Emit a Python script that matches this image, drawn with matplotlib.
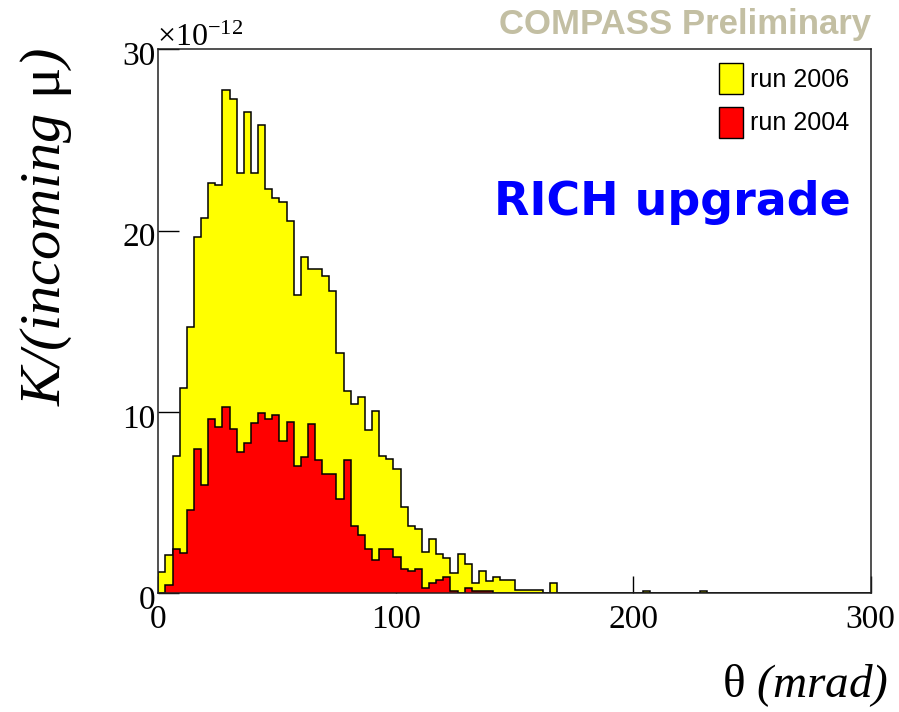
import numpy as np
import matplotlib.pyplot as plt
import matplotlib.transforms as mtransforms
from matplotlib.patches import Patch

plt.rcParams['mathtext.fontset'] = 'custom'
plt.rcParams['mathtext.rm'] = 'Liberation Serif'
plt.rcParams['mathtext.it'] = 'Liberation Serif:italic'

# theta binning: 100 bins of 3 mrad from 0 to 300
theta_edges = np.linspace(0, 300, 101)

# kaons per incoming muon, in units of 1e-12
k_2006 = [1.19, 2.11, 7.57, 11.3, 14.70, 19.63, 20.68, 22.65, 22.5, 27.76,
          27.24, 23.2, 26.54, 23.2, 25.81, 22.3, 21.78, 21.58, 20.53, 16.45,
          18.56, 17.88, 17.88, 17.52, 16.67, 13.27, 11.14, 10.44, 10.81, 9.01,
          10.07, 7.59, 7.41, 6.88, 4.78, 3.73, 3.55, 2.30, 2.98, 2.15,
          1.93, 1.10, 2.15, 1.62, 0.55, 1.23, 0.70, 0.88, 0.73, 0.73,
          0.18, 0.18, 0.18, 0.18, 0.0, 0.55, 0.0, 0.0, 0.0, 0.0,
          0.0, 0.0, 0.0, 0.0, 0.0, 0.0, 0.0, 0.0, 0.14, 0.0,
          0.0, 0.0, 0.0, 0.0, 0.0, 0.0, 0.14, 0.0, 0.0, 0.0,
          0.0, 0.0, 0.0, 0.0, 0.0, 0.0, 0.0, 0.0, 0.0, 0.0,
          0.0, 0.0, 0.0, 0.0, 0.0, 0.0, 0.0, 0.0, 0.0, 0.0]

k_2004 = [0.0, 0.46, 2.43, 2.24, 4.59, 7.97, 5.95, 9.63, 9.17, 10.26,
          9.04, 7.81, 8.27, 9.37, 9.93, 9.63, 9.81, 8.42, 9.46, 7.02,
          7.50, 9.34, 7.35, 6.58, 6.58, 5.22, 7.35, 3.71, 3.22, 2.43,
          1.84, 2.43, 2.43, 2.02, 1.36, 1.25, 1.36, 0.27, 0.59, 0.73,
          0.88, 0.14, 0.0, 0.29, 0.14, 0.14, 0.14, 0.0, 0.0, 0.0,
          0.0, 0.0, 0.0, 0.0, 0.0, 0.0, 0.0, 0.0, 0.0, 0.0,
          0.0, 0.0, 0.0, 0.0, 0.0, 0.0, 0.0, 0.0, 0.0, 0.0,
          0.0, 0.0, 0.0, 0.0, 0.0, 0.0, 0.0, 0.0, 0.0, 0.0,
          0.0, 0.0, 0.0, 0.0, 0.0, 0.0, 0.0, 0.0, 0.0, 0.0,
          0.0, 0.0, 0.0, 0.0, 0.0, 0.0, 0.0, 0.0, 0.0, 0.0]

x_ticks = [0, 100, 200, 300]
y_ticks = [0, 10, 20, 30]

W, H = 899, 712
fig = plt.figure(figsize=(W / 100, H / 100), dpi=100)
ax = fig.add_axes([158.3 / W, 1 - 593.3 / H, (870.7 - 158.3) / W, (593.3 - 49.3) / H])
ax.set_axisbelow(True)

ax.stairs(k_2006, theta_edges, fill=True, color='#ffff00', baseline=0)
ax.stairs(k_2006, theta_edges, color='black', lw=1.1, baseline=0)
ax.stairs(k_2004, theta_edges, fill=True, color='#ff0000', baseline=0)
ax.stairs(k_2004, theta_edges, color='black', lw=1.1, baseline=0)

ax.set_xlim(0, 300)
ax.set_ylim(0, 30)
ax.set_xticks(x_ticks)
ax.set_yticks(y_ticks)
ax.tick_params(direction='in', width=1, labelsize=24, colors='black')
ax.tick_params(axis='y', length=15, pad=2)
ax.tick_params(axis='x', length=12, pad=8)
shift_down = mtransforms.ScaledTranslation(0, -4 / 100, fig.dpi_scale_trans)
for lab in ax.get_xticklabels() + ax.get_yticklabels():
    lab.set_family('Liberation Serif')
for lab in ax.get_yticklabels():
    lab.set_transform(lab.get_transform() + shift_down)
for sp in ax.spines.values():
    sp.set_linewidth(1.1)
    sp.set_color('#222222')

# exponent for the y scale
fig.text(157 / W, 1 - 46 / H, r'$\times$10$^{-12}$', fontsize=23,
         family='Liberation Serif', ha='left', va='baseline')

# axis titles
fig.text(46 / W, 1 - 48 / H, r'K/(incoming $\mathrm{μ}$)', fontsize=42,
         family='Liberation Serif', style='italic', rotation=90,
         ha='center', va='top')
fig.text(888 / W, 1 - 697 / H, r'$\mathrm{θ}$ (mrad)', fontsize=34,
         family='Liberation Serif', style='italic', ha='right', va='baseline')

fig.text(871 / W, 1 - 34 / H, 'COMPASS Preliminary', fontsize=25,
         family='Liberation Sans', weight='bold', color='#c3bfa3',
         ha='right', va='baseline')

ax.text(851 / W, 1 - 215 / H, 'RICH upgrade', transform=fig.transFigure,
        fontsize=33, family='DejaVu Sans', weight='bold', color='#0000ff',
        ha='right', va='baseline')

handles = [Patch(facecolor='#ffff00', edgecolor='black', lw=1),
           Patch(facecolor='#ff0000', edgecolor='black', lw=1)]
fig.legend(handles, ['run 2006', 'run 2004'], loc='upper left',
           bbox_to_anchor=(719 / W, 1 - 63 / H), frameon=False,
           prop={'family': 'Liberation Sans', 'size': 18},
           handlelength=0.97, handleheight=1.54, handletextpad=0.25,
           labelspacing=0.5, borderpad=0, borderaxespad=0)

fig.savefig('out.png', dpi=100)
